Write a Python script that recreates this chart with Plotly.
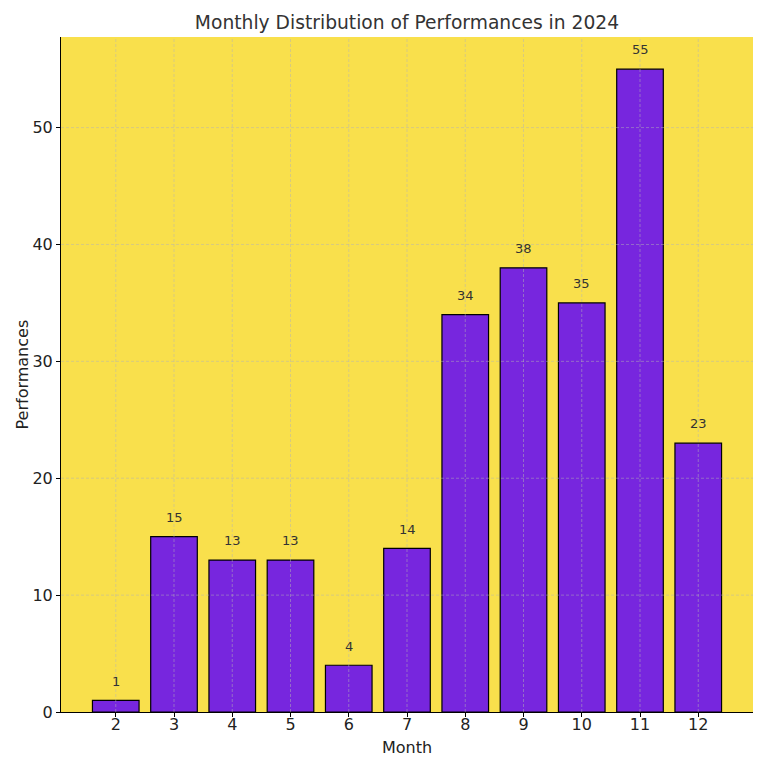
import plotly.graph_objects as go

months = [2, 3, 4, 5, 6, 7, 8, 9, 10, 11, 12]
performances = [1, 15, 13, 13, 4, 14, 34, 38, 35, 55, 23]
y_ticks = [0, 10, 20, 30, 40, 50]

title = "Monthly Distribution of Performances in 2024"
x_label = "Month"
y_label = "Performances"

bar_color = "#7726DE"
bg_color = "#F9E04C"
grid_color = "rgba(180,180,180,0.7)"
text_color = "#333333"

fig = go.Figure()
fig.add_trace(go.Bar(
    x=months, y=performances, width=0.8,
    marker=dict(color=bar_color, line=dict(color="black", width=1.2)),
    hoverinfo="x+y",
))

ymax = max(performances) * 1.05
for m, v in zip(months, performances):
    fig.add_annotation(x=m, y=v + 1, text=str(v), showarrow=False, yshift=-2,
                       yanchor="bottom", font=dict(size=13, color=text_color))

# axis titles
fig.add_annotation(text=x_label, xref="paper", yref="paper", x=0.5, y=0, yshift=-35,
                   yanchor="middle", showarrow=False, font=dict(size=16, color="#222"))
fig.add_annotation(text=y_label, xref="paper", yref="paper", x=0, y=0.5, xshift=-39,
                   xanchor="center", yanchor="middle", textangle=-90, showarrow=False,
                   font=dict(size=16, color="#222"))

shapes = []
for m in months:
    shapes.append(dict(type="line", xref="x", yref="paper", x0=m, x1=m, y0=0, y1=1,
                       line=dict(color=grid_color, width=0.7, dash="3px,2px"), layer="above"))
for t in y_ticks[1:]:
    shapes.append(dict(type="line", xref="paper", yref="y", x0=0, x1=1, y0=t, y1=t,
                       line=dict(color=grid_color, width=0.7, dash="3px,2px"), layer="above"))
fig.update_layout(shapes=shapes)

fig.update_layout(
    width=768, height=768,
    margin=dict(l=61, r=15, t=37, b=56, autoexpand=False),
    paper_bgcolor="white", plot_bgcolor=bg_color,
    font=dict(family="DejaVu Sans", color=text_color),
    title=dict(text=title, x=0.5, xref="paper", xanchor="center", y=1 - 22 / 768, yanchor="middle",
               font=dict(size=18.7, color=text_color)),
    showlegend=False, bargap=0.2,
)
fig.update_xaxes(
    range=[1.06, 12.94], tickvals=months, ticktext=[str(m) for m in months],
    showgrid=False, zeroline=False, showline=True, linecolor="black", linewidth=1,
    ticks="outside", ticklen=4, tickcolor="black", tickfont=dict(size=16, color="#222"),
    ticklabelstandoff=-6, automargin=False,
)
fig.update_yaxes(
    range=[0, ymax], tickvals=y_ticks,
    showgrid=False, zeroline=False, showline=True, linecolor="black", linewidth=1,
    ticks="outside", ticklen=4, tickcolor="black", tickfont=dict(size=16, color="#222"),
    automargin=False,
)

fig.write_html("out.html", config={"displayModeBar": False},
               post_script="document.body.style.margin='0';document.body.style.padding='0';")
